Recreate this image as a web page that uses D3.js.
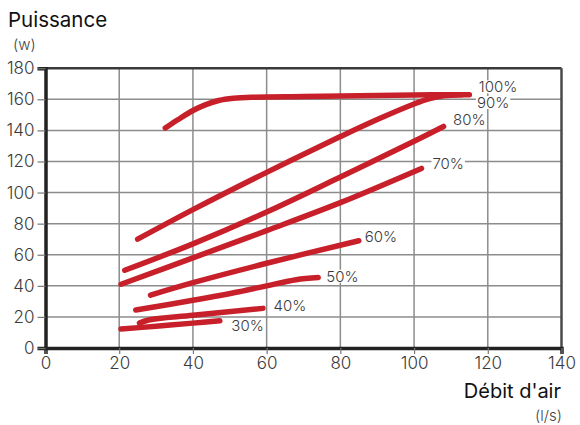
<!DOCTYPE html>
<html><head><meta charset="utf-8">
<script src="https://cdn.jsdelivr.net/npm/d3@7/dist/d3.min.js"></script>
<style>body{margin:0;background:#fff;}svg{display:block;font-family:Inter,"Noto Sans",sans-serif;}</style>
</head><body>
<svg id="c" width="580" height="425"></svg>
<script>
const xTicks = [0,20,40,60,80,100,120,140];
const yTicks = [0,20,40,60,80,100,120,140,160,180];
const seriesNames = ["100%","90%","80%","70%","60%","50%","40%","30%"];
const s100 = [[32.5,141.5],[36,147],[40,152.8],[43.5,156.6],[47,159.2],[51,160.6],[56,161.3],[70,161.8],[90,162.4],[105,162.9],[115,163]];
const s90 = [[25,70],[40,89],[60,113],[80,136],[90,147],[100,157],[104,160.3],[108,162.2],[113,162.9]];
const s80 = [[21.5,50],[40,67],[60,87.5],[80,110],[100,133],[108,142.5]];
const s70 = [[20.5,41],[40,58],[60,75.5],[80,93.5],[102,115.5]];
const s60 = [[28.5,34],[40,42],[60,54.5],[85,69]];
const s50 = [[24.5,24.4],[40,30.7],[52.5,36.2],[60,40],[68,43.9],[74,45.3]];
const s40 = [[25.5,16],[28,18],[40,21],[59,25.5]];
const s30 = [[20.5,12.2],[30,14],[40,16],[47.3,17.5]];
const seriesData = [s100,s90,s80,s70,s60,s50,s40,s30];

const svg = d3.select("#c");
const m = {l:45.5, r:18.5, t:68.2, b:77};
const W = 580, H = 425;
const x = d3.scaleLinear().domain([0,140]).range([m.l, W - m.r]);
const y = d3.scaleLinear().domain([0,180]).range([H - m.b, m.t]);
const FONT = "Inter, 'Noto Sans', sans-serif";

// grid
svg.append("g").selectAll("line").data(xTicks.slice(1,-1)).join("line")
  .attr("x1", d=>x(d)).attr("x2", d=>x(d)).attr("y1", y(0)).attr("y2", y(180))
  .attr("stroke", "#8c8c8c").attr("stroke-width", 1.5);
svg.append("g").selectAll("line").data(yTicks.slice(1,-1)).join("line")
  .attr("y1", d=>y(d)).attr("y2", d=>y(d)).attr("x1", x(0)).attr("x2", x(140))
  .attr("stroke", "#8c8c8c").attr("stroke-width", 1.5);

// frame top/right
svg.append("line").attr("x1", x(0)).attr("x2", x(140)).attr("y1", y(180)).attr("y2", y(180)).attr("stroke", "#3a3a3a").attr("stroke-width", 2.5);
svg.append("line").attr("x1", x(140)).attr("x2", x(140)).attr("y1", y(0)).attr("y2", y(180)).attr("stroke", "#4a4a4a").attr("stroke-width", 2.5);

// axes
const xAxis = svg.append("g").attr("transform", `translate(0,${y(0)})`)
  .call(d3.axisBottom(x).tickValues(xTicks).tickSize(6).tickPadding(3));
const yAxis = svg.append("g").attr("transform", `translate(${x(0)},0)`)
  .call(d3.axisLeft(y).tickValues(yTicks).tickSize(8).tickPadding(3));
[xAxis, yAxis].forEach(g => {
  g.select(".domain").attr("stroke", "#222").attr("stroke-width", 3.5);
  g.selectAll(".tick line").attr("stroke", "#777").attr("stroke-width", 1.2);
  g.selectAll(".tick text").attr("fill", "#3a3a3a").attr("font-size", 17)
    .attr("font-family", FONT).attr("font-weight", 300);
});

// lines
const line = d3.line().x(d=>x(d[0])).y(d=>y(d[1])).curve(d3.curveCatmullRom.alpha(0.5));
svg.append("g").selectAll("path").data(seriesData).join("path")
  .attr("d", line).attr("fill", "none").attr("stroke", "#c8202a")
  .attr("stroke-width", 5.5).attr("stroke-linecap", "round").attr("stroke-linejoin", "round");

// labels
const labelOff = [[9.5,-7.5],[15,8],[9.5,-6.5],[11,-4.3],[6,-4.4],[8,-1.2],[10.5,-2.6],[11.5,5]];
const lg = svg.append("g");
seriesData.forEach((s,i) => {
  const p = s[s.length-1];
  const tx = x(p[0]) + labelOff[i][0], ty = y(p[1]) + labelOff[i][1];
  const t = lg.append("text").attr("x", tx).attr("y", ty).attr("dy", "0.35em")
    .attr("font-size", 15).attr("fill", "#3a3a3a").attr("font-weight", 300).text(seriesNames[i]);
  const bb = t.node().getBBox();
  lg.insert("rect", "text").attr("x", bb.x - 1).attr("y", bb.y + 3).attr("width", bb.width + 2).attr("height", bb.height - 6).attr("fill", "#fff");
});

// titles
svg.append("text").attr("x", 8).attr("y", 27).attr("font-size", 20.5).attr("fill", "#111").text("Puissance");
svg.append("text").attr("x", 13).attr("y", 50).attr("font-size", 15).attr("fill", "#444").attr("font-weight", 300).text("(w)");
svg.append("text").attr("x", 561).attr("y", 398).attr("text-anchor", "end").attr("font-size", 20).attr("fill", "#111").text("Débit d'air");
svg.append("text").attr("x", 562).attr("y", 421).attr("text-anchor", "end").attr("font-size", 15).attr("fill", "#444").attr("font-weight", 300).text("(l/s)");
</script>
</body></html>
